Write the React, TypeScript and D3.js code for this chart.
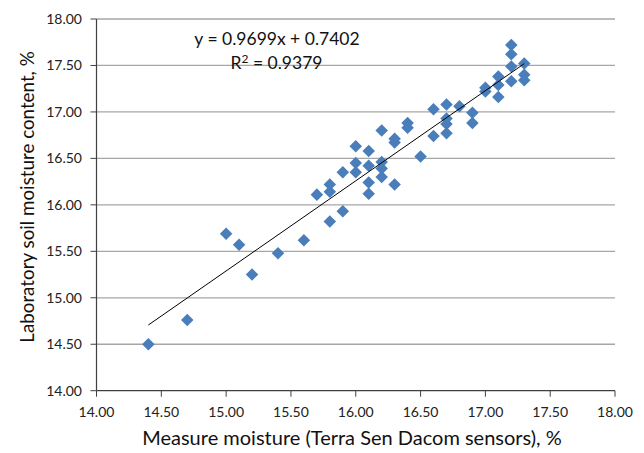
import React from "react";
import * as d3 from "d3";

const xValues = [14.4, 14.7, 15.0, 15.1, 15.2, 15.4, 15.6, 15.7, 15.8, 15.8, 15.8, 15.9, 15.9, 16.0, 16.0, 16.0, 16.1, 16.1, 16.1, 16.1, 16.2, 16.2, 16.2, 16.2, 16.3, 16.3, 16.3, 16.4, 16.4, 16.5, 16.6, 16.6, 16.7, 16.7, 16.7, 16.7, 16.8, 16.9, 16.9, 17.0, 17.0, 17.1, 17.1, 17.1, 17.2, 17.2, 17.2, 17.2, 17.3, 17.3, 17.3];
const yValues = [14.5, 14.76, 15.69, 15.57, 15.25, 15.48, 15.62, 16.11, 15.82, 16.14, 16.22, 15.93, 16.35, 16.35, 16.45, 16.63, 16.12, 16.24, 16.42, 16.58, 16.3, 16.39, 16.46, 16.8, 16.22, 16.67, 16.71, 16.83, 16.88, 16.52, 16.74, 17.03, 16.77, 16.87, 16.93, 17.08, 17.06, 16.88, 16.99, 17.22, 17.26, 17.16, 17.29, 17.38, 17.33, 17.49, 17.62, 17.72, 17.34, 17.4, 17.52];
const tickValues = [14, 14.5, 15, 15.5, 16, 16.5, 17, 17.5, 18];
const slope = 0.9699;
const intercept = 0.7402;
const trendRange = [14.4, 17.3];
const equationText = "y = 0.9699x + 0.7402";
const r2Value = "0.9379";
const xTitle = "Measure moisture (Terra Sen Dacom sensors), %";
const yTitle = "Laboratory soil moisture content, %";

export default function App() {
  const W = 644, H = 453;
  const left = 96.5, right = 615, top = 19, bottom = 390.7;
  const x = d3.scaleLinear().domain([14, 18]).range([left, right]);
  const y = d3.scaleLinear().domain([14, 18]).range([bottom, top]);
  const font = "Lato, 'Open Sans', sans-serif";
  const diamond = d3.symbol().type(d3.symbolDiamond2).size(100)();
  const trend = d3.line<number>().x((v) => x(v)).y((v) => y(slope * v + intercept));
  return (
    <svg width={W} height={H} style={{ position: "absolute", left: 0, top: 0 }} fontFamily={font}>
      <rect width={W} height={H} fill="#fff" />
      {tickValues.slice(1).map((t) => (
        <line key={"g" + t} x1={left} x2={right} y1={y(t)} y2={y(t)} stroke="#a6a6a6" strokeWidth={1.3} />
      ))}
      <line x1={left} x2={left} y1={top} y2={bottom} stroke="#404040" strokeWidth={1.2} />
      <line x1={left} x2={right} y1={bottom} y2={bottom} stroke="#404040" strokeWidth={1.2} />
      {tickValues.map((t) => (
        <g key={"y" + t}>
          <line x1={left - 6} x2={left} y1={y(t)} y2={y(t)} stroke="#404040" strokeWidth={1} />
          <text x={82} y={y(t)} dy="0.35em" textAnchor="end" fontSize={14} fill="#222">{d3.format(".2f")(t)}</text>
        </g>
      ))}
      {tickValues.map((t) => (
        <g key={"x" + t}>
          <line x1={x(t)} x2={x(t)} y1={bottom} y2={bottom + 6} stroke="#404040" strokeWidth={1} />
          <text x={x(t)} y={412} dy="0.35em" textAnchor="middle" fontSize={14} fill="#222">{d3.format(".2f")(t)}</text>
        </g>
      ))}
      {xValues.map((v, i) => (
        <path key={"p" + i} d={diamond} transform={`translate(${x(v)},${y(yValues[i])})`} fill="#4a7ebb" />
      ))}
      <path d={trend(trendRange) || ""} fill="none" stroke="#000" strokeWidth={1} />
      <text x={277} y={39} dy="0.35em" textAnchor="middle" fontSize={17.5} fill="#111">{equationText}</text>
      <text x={276.5} y={63} dy="0.35em" textAnchor="middle" fontSize={17.5} fill="#111">
        R<tspan dy="-6" fontSize={12}>2</tspan><tspan dy="6"> = {r2Value}</tspan>
      </text>
      <text x={352} y={438} dy="0.35em" textAnchor="middle" fontSize={20} fill="#111">{xTitle}</text>
      <text transform={`translate(27,197) rotate(-90)`} dy="0.35em" textAnchor="middle" fontSize={18.8} fill="#111">{yTitle}</text>
    </svg>
  );
}
